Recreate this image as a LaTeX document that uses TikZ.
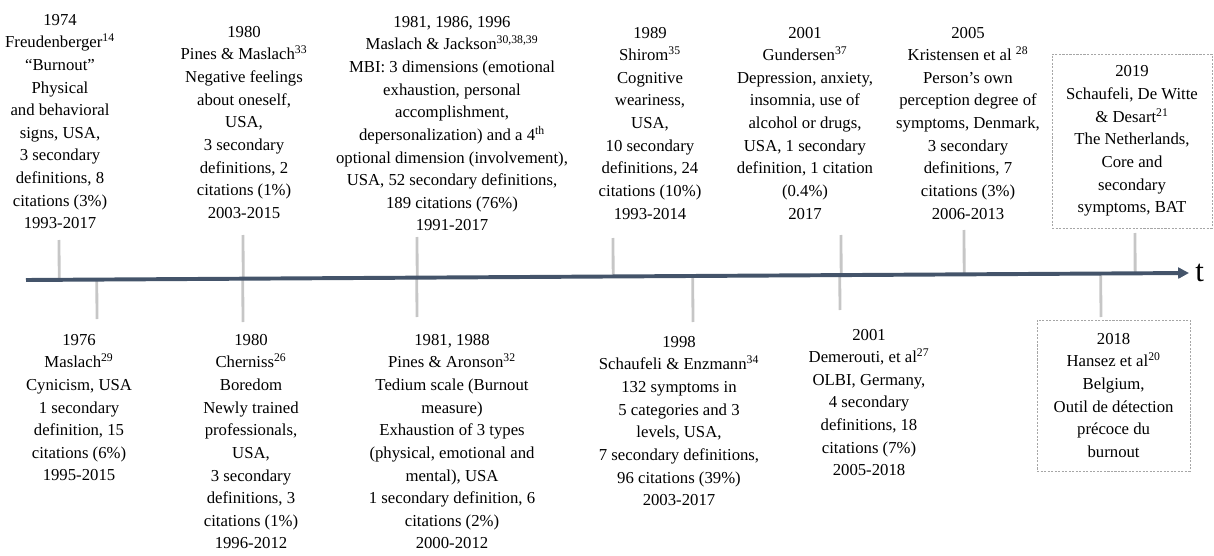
\documentclass[tikz,border=0pt]{standalone}
\usepackage{fontspec}
\setmainfont{Liberation Serif}
\usetikzlibrary{arrows.meta,calc,positioning}
\definecolor{axisblue}{HTML}{44546A}
\definecolor{tickgray}{HTML}{C6C6C6}

\begin{document}
\begin{tikzpicture}[
            entry/.style={align=center, inner sep=0pt, anchor=north, font=\fontsize{11.9}{16.1}\selectfont},
            dashbox/.style={entry, anchor=center, draw=gray!70, dash pattern=on 1.5pt off 1pt, line width=0.5pt},
            tick/.style={draw=tickgray, line width=2pt}
            ]
            \useasboundingbox (0,0) rectangle (30.35,13.875);

            \coordinate (s) at (0.65,6.875);
            \coordinate (e) at (29.725,7.05);

            % above the axis
            \node[entry] (a) at (1.5,13.53) {1974\\Freudenberger\textsuperscript{14}\\“Burnout”\\Physical\\and behavioral\\signs, USA,\\3 secondary\\definitions, 8\\citations (3\%)\\1993-2017};
            \node[entry] (b) at (6.1,13.23) {1980\\Pines \& Maslach\textsuperscript{33}\\Negative feelings\\about oneself,\\USA,\\3 secondary\\definitions, 2\\citations (1\%)\\2003-2015};
            \node[entry] (c) at (11.3,13.48) {1981, 1986, 1996\\Maslach \& Jackson\textsuperscript{30,38,39}\\MBI: 3 dimensions (emotional\\exhaustion, personal\\accomplishment,\\depersonalization) and a 4\textsuperscript{th}\\optional dimension (involvement),\\USA, 52 secondary definitions,\\189 citations (76\%)\\1991-2017};
            \node[entry] (d) at (16.25,13.21) {1989\\Shirom\textsuperscript{35}\\Cognitive\\weariness,\\USA,\\10 secondary\\definitions, 24\\citations (10\%)\\1993-2014};
            \node[entry] (f) at (20.125,13.21) {2001\\Gundersen\textsuperscript{37}\\Depression, anxiety,\\insomnia, use of\\alcohol or drugs,\\USA, 1 secondary\\definition, 1 citation\\(0.4\%)\\2017};
            \node[entry] (g) at (24.2,13.21) {2005\\Kristensen et al \textsuperscript{28}\\Person’s own\\perception degree of\\symptoms, Denmark,\\3 secondary\\definitions, 7\\citations (3\%)\\2006-2013};
            \node[dashbox, minimum width=4cm, minimum height=4.35cm] (h) at (28.3,10.35) {2019\\Schaufeli, De Witte\\\& Desart\textsuperscript{21}\\The Netherlands,\\Core and\\secondary\\symptoms, BAT};

            % below the axis
            \node[entry] (i) at (1.975,5.53) {1976\\Maslach\textsuperscript{29}\\Cynicism, USA\\1 secondary\\definition, 15\\citations (6\%)\\1995-2015};
            \node[entry] (j) at (6.275,5.53) {1980\\Cherniss\textsuperscript{26}\\Boredom\\Newly trained\\professionals,\\USA,\\3 secondary\\definitions, 3\\citations (1\%)\\1996-2012};
            \node[entry] (k) at (11.3,5.53) {1981, 1988\\Pines \& Aronson\textsuperscript{32}\\Tedium scale (Burnout\\measure)\\Exhaustion of 3 types\\(physical, emotional and\\mental), USA\\1 secondary definition, 6\\citations (2\%)\\2000-2012};
            \node[entry] (l) at (16.975,5.48) {1998\\Schaufeli \& Enzmann\textsuperscript{34}\\132 symptoms in\\5 categories and 3\\levels, USA,\\7 secondary definitions,\\96 citations (39\%)\\2003-2017};
            \node[entry] (m) at (21.725,5.66) {2001\\Demerouti, et al\textsuperscript{27}\\OLBI, Germany,\\4 secondary\\definitions, 18\\citations (7\%)\\2005-2018};
            \node[dashbox, minimum width=3.825cm, minimum height=3.775cm] (n) at (27.84,3.99) {2018\\Hansez et al\textsuperscript{20}\\Belgium,\\Outil de détection\\précoce du\\burnout};

            % tick ends
            \coordinate (ta) at (1.475,7.875);
            \coordinate (tb) at (6.075,8.0);
            \coordinate (tc) at (10.425,7.95);
            \coordinate (td) at (15.325,7.925);
            \coordinate (tf) at (21.025,8.0);
            \coordinate (tg) at (24.1,8.125);
            \coordinate (th) at (28.375,8.05);
            \coordinate (ti) at (2.425,5.9);
            \coordinate (tj) at (6.075,5.825);
            \coordinate (tk) at (10.425,5.95);
            \coordinate (tl) at (17.325,5.825);
            \coordinate (tm) at (21.0,6.125);
            \coordinate (tn) at (27.525,5.95);

            \draw[tick] (ta) -- ($(s)!(ta)!(e)$);
            \draw[tick] (tb) -- ($(s)!(tb)!(e)$);
            \draw[tick] (tc) -- ($(s)!(tc)!(e)$);
            \draw[tick] (td) -- ($(s)!(td)!(e)$);
            \draw[tick] (tf) -- ($(s)!(tf)!(e)$);
            \draw[tick] (tg) -- ($(s)!(tg)!(e)$);
            \draw[tick] (th) -- ($(s)!(th)!(e)$);
            \draw[tick] ($(s)!(ti)!(e)$) -- (ti);
            \draw[tick] ($(s)!(tj)!(e)$) -- (tj);
            \draw[tick] ($(s)!(tk)!(e)$) -- (tk);
            \draw[tick] ($(s)!(tl)!(e)$) -- (tl);
            \draw[tick] ($(s)!(tm)!(e)$) -- (tm);
            \draw[tick] ($(s)!(tn)!(e)$) -- (tn);

            \draw[axisblue, line width=2.8pt, -{Triangle[length=0.27cm, width=0.27cm]}] (s) -- (e);
            \node[right=0.15 of e, inner sep=0pt, font=\fontsize{22}{22}\selectfont] (t) {t};

            \end{tikzpicture}
\end{document}
